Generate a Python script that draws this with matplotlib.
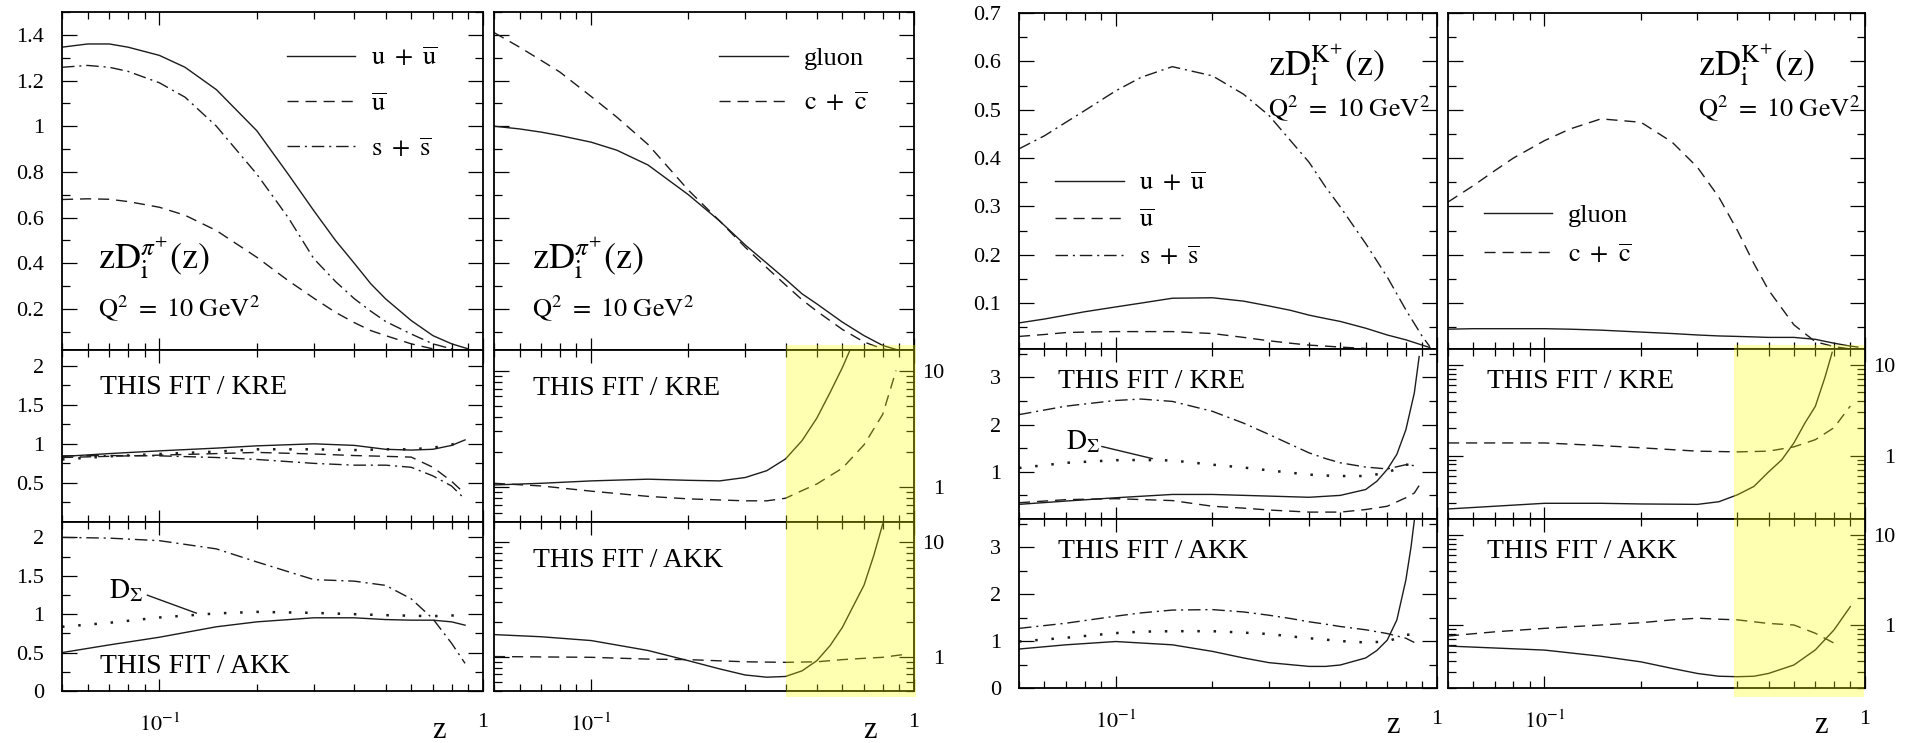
import matplotlib
matplotlib.use('Agg')
import matplotlib.pyplot as plt
from matplotlib.ticker import FixedLocator, FuncFormatter, NullFormatter, MultipleLocator
from matplotlib.patches import Rectangle
from matplotlib.lines import Line2D
import matplotlib.transforms as mtransforms

plt.rcParams['font.family'] = ['Liberation Serif', 'DejaVu Serif']
plt.rcParams['mathtext.fontset'] = 'stix'

# ---------------- data ----------------
z_top = [0.05, 0.06, 0.07, 0.08, 0.1, 0.12, 0.15, 0.2, 0.25, 0.3, 0.35, 0.4, 0.45, 0.5, 0.6, 0.7, 0.8, 0.9]
pi_uubar = [1.346, 1.36, 1.36, 1.346, 1.31, 1.258, 1.16, 0.98, 0.79, 0.63, 0.50, 0.40, 0.31, 0.244, 0.149, 0.083, 0.047, 0.025]
pi_ubar = [0.679, 0.682, 0.68, 0.67, 0.645, 0.61, 0.543, 0.426, 0.324, 0.247, 0.185, 0.14, 0.105, 0.083, 0.047, 0.025, 0.012, 0.004]
pi_ssbar = [1.258, 1.266, 1.258, 1.24, 1.19, 1.127, 1.0, 0.79, 0.60, 0.42, 0.32, 0.245, 0.19, 0.145, 0.09, 0.047, 0.025, 0.01]
pi_gluon = [1.0, 0.988, 0.974, 0.959, 0.93, 0.895, 0.83, 0.70, 0.585, 0.48, 0.40, 0.33, 0.266, 0.222, 0.142, 0.083, 0.04, 0.018]
pi_ccbar = [1.41, 1.346, 1.288, 1.237, 1.13, 1.04, 0.92, 0.72, 0.585, 0.47, 0.38, 0.305, 0.24, 0.19, 0.11, 0.055, 0.025, 0.01]

z_pm = [0.05, 0.07, 0.1, 0.15, 0.2, 0.3, 0.4, 0.5, 0.6, 0.7, 0.8, 0.88]
kre_pi_uubar = [0.838, 0.875, 0.91, 0.945, 0.974, 1.0, 0.98, 0.93, 0.92, 0.93, 0.98, 1.05]
kre_pi_ubar = [0.825, 0.84, 0.855, 0.875, 0.89, 0.87, 0.85, 0.84, 0.83, 0.70, 0.52, 0.36]
kre_pi_ssbar = [0.846, 0.85, 0.846, 0.825, 0.80, 0.75, 0.727, 0.727, 0.70, 0.59, 0.46, 0.29]
kre_pi_dsig = [0.80, 0.84, 0.87, 0.90, 0.93, 0.93, 0.92, 0.93, 0.93, 0.95, 0.99, 1.04]
akk_pi_uubar = [0.50, 0.60, 0.70, 0.836, 0.90, 0.953, 0.953, 0.93, 0.922, 0.922, 0.90, 0.857]
akk_pi_ssbar = [2.0, 1.99, 1.957, 1.85, 1.68, 1.45, 1.43, 1.375, 1.2, 0.94, 0.62, 0.36]
akk_pi_dsig = [0.836, 0.888, 0.957, 1.01, 1.03, 1.017, 1.0, 0.987, 0.98, 0.974, 0.983, 0.983]

z_kre_pi_g = [0.05, 0.07, 0.1, 0.15, 0.2, 0.25, 0.3, 0.35, 0.4, 0.45, 0.5, 0.55, 0.6, 0.64]
kre_pi_g = [1.04, 1.075, 1.127, 1.166, 1.14, 1.127, 1.205, 1.38, 1.74, 2.5, 3.9, 6.5, 10.6, 16]
z_kre_pi_c = [0.05, 0.07, 0.1, 0.15, 0.2, 0.3, 0.35, 0.4, 0.45, 0.5, 0.6, 0.7, 0.8, 0.88]
kre_pi_c = [1.075, 1.02, 0.92, 0.83, 0.79, 0.76, 0.76, 0.80, 0.93, 1.06, 1.45, 2.3, 4.2, 10]
z_akk_pi_g = [0.05, 0.07, 0.1, 0.15, 0.2, 0.25, 0.3, 0.35, 0.4, 0.45, 0.5, 0.55, 0.6, 0.65, 0.7, 0.75, 0.8, 0.81]
akk_pi_g = [1.556, 1.49, 1.38, 1.13, 0.92, 0.78, 0.69, 0.66, 0.67, 0.75, 0.92, 1.25, 1.8, 2.8, 4.2, 7.6, 14.4, 15.5]
z_akk_pi_c = [0.05, 0.1, 0.15, 0.2, 0.3, 0.4, 0.5, 0.6, 0.7, 0.8, 0.9, 0.95]
akk_pi_c = [1.0, 0.985, 0.95, 0.94, 0.90, 0.89, 0.90, 0.94, 0.965, 0.985, 1.03, 1.05]

z_K = [0.05, 0.06, 0.07, 0.08, 0.1, 0.12, 0.15, 0.2, 0.25, 0.3, 0.35, 0.4, 0.45, 0.5, 0.6, 0.7, 0.8, 0.9, 0.95]
K_ssbar = [0.419, 0.446, 0.474, 0.498, 0.539, 0.567, 0.589, 0.57, 0.532, 0.488, 0.436, 0.391, 0.34, 0.299, 0.223, 0.154, 0.086, 0.031, 0.01]
K_uubar = [0.059, 0.067, 0.075, 0.082, 0.092, 0.10, 0.11, 0.111, 0.104, 0.094, 0.085, 0.075, 0.068, 0.062, 0.048, 0.034, 0.024, 0.013, 0.008]
K_ubar = [0.031, 0.035, 0.039, 0.04, 0.041, 0.041, 0.041, 0.037, 0.029, 0.022, 0.017, 0.013, 0.011, 0.009, 0.006, 0.004, 0.002, 0.001, 0.0005]
K_ccbar = [0.309, 0.343, 0.374, 0.40, 0.436, 0.46, 0.481, 0.474, 0.433, 0.381, 0.319, 0.25, 0.182, 0.127, 0.055, 0.02, 0.01, 0.005, 0.003]
K_gluon = [0.046, 0.047, 0.047, 0.047, 0.047, 0.046, 0.044, 0.04, 0.037, 0.034, 0.032, 0.031, 0.030, 0.029, 0.029, 0.025, 0.017, 0.011, 0.009]

z_Km = [0.05, 0.07, 0.1, 0.12, 0.15, 0.2, 0.25, 0.3, 0.35, 0.4, 0.45, 0.5, 0.6, 0.7, 0.8, 0.85]
kre_K_ssbar = [2.21, 2.39, 2.51, 2.54, 2.49, 2.28, 2.03, 1.79, 1.58, 1.40, 1.28, 1.19, 1.10, 1.06, 1.15, 1.13]
kre_K_dsig = [1.08, 1.19, 1.245, 1.25, 1.24, 1.15, 1.09, 1.03, 0.98, 0.94, 0.92, 0.91, 0.91, 0.98, 1.15, 1.15]
akk_K_ssbar = [1.27, 1.38, 1.53, 1.60, 1.66, 1.67, 1.62, 1.55, 1.48, 1.41, 1.36, 1.31, 1.24, 1.16, 1.06, 0.97]
akk_K_dsig = [0.99, 1.07, 1.17, 1.20, 1.21, 1.21, 1.18, 1.15, 1.10, 1.06, 1.03, 1.0, 0.97, 0.99, 1.13, 1.15]
z_kre_K_u = [0.05, 0.07, 0.1, 0.15, 0.2, 0.3, 0.4, 0.5, 0.6, 0.65, 0.7, 0.75, 0.8, 0.85, 0.88]
kre_K_uubar = [0.31, 0.38, 0.45, 0.52, 0.52, 0.485, 0.46, 0.50, 0.625, 0.80, 1.05, 1.37, 1.89, 2.67, 3.44]
z_kre_K_ub = [0.05, 0.07, 0.1, 0.15, 0.2, 0.25, 0.3, 0.4, 0.5, 0.6, 0.7, 0.8, 0.85, 0.88]
kre_K_ubar = [0.344, 0.41, 0.43, 0.39, 0.27, 0.23, 0.19, 0.146, 0.146, 0.20, 0.27, 0.45, 0.55, 0.71]
z_akk_K_u = [0.05, 0.07, 0.1, 0.15, 0.2, 0.25, 0.3, 0.4, 0.45, 0.5, 0.6, 0.65, 0.7, 0.75, 0.8, 0.83, 0.85]
akk_K_uubar = [0.83, 0.92, 0.99, 0.92, 0.78, 0.64, 0.54, 0.46, 0.46, 0.49, 0.64, 0.80, 1.02, 1.45, 2.3, 3.0, 3.57]

z_kre_K_g = [0.05, 0.1, 0.15, 0.2, 0.3, 0.35, 0.4, 0.45, 0.5, 0.55, 0.6, 0.65, 0.7, 0.75, 0.79]
kre_K_g = [0.258, 0.298, 0.298, 0.293, 0.29, 0.31, 0.37, 0.457, 0.66, 0.9, 1.38, 2.3, 3.5, 7.3, 13.8]
z_kre_K_c = [0.05, 0.1, 0.15, 0.2, 0.3, 0.4, 0.5, 0.6, 0.7, 0.8, 0.9]
kre_K_c = [1.38, 1.38, 1.29, 1.22, 1.12, 1.10, 1.12, 1.25, 1.5, 2.03, 3.53]
z_akk_K_g = [0.05, 0.1, 0.15, 0.2, 0.25, 0.3, 0.35, 0.4, 0.45, 0.5, 0.6, 0.7, 0.8, 0.9]
akk_K_g = [0.584, 0.527, 0.45, 0.39, 0.33, 0.29, 0.27, 0.267, 0.27, 0.29, 0.36, 0.53, 0.88, 1.6]
z_akk_K_c = [0.05, 0.07, 0.1, 0.15, 0.2, 0.25, 0.3, 0.35, 0.4, 0.5, 0.6, 0.7, 0.8]
akk_K_c = [0.755, 0.84, 0.918, 1.0, 1.06, 1.14, 1.19, 1.16, 1.14, 1.04, 1.0, 0.81, 0.63]

x_minor = [0.05, 0.06, 0.07, 0.08, 0.09, 0.2, 0.3, 0.4, 0.5, 0.6, 0.7, 0.8, 0.9]
x_major = [0.1, 1.0]
log_minor = [0.2, 0.3, 0.4, 0.5, 0.6, 0.7, 0.8, 0.9, 2, 3, 4, 5, 6, 7, 8, 9]
log_major = [1, 10]

# ---------------- styles ----------------
LC = '#1c1c1c'
S_SOLID = dict(color=LC, lw=1.0, ls='-')
S_DASH = dict(color=LC, lw=1.0, ls=(0, (8, 5)))
S_DDOT = dict(color=LC, lw=1.0, ls=(0, (9, 3.5, 1.5, 3.5)))
S_DOT = dict(color=LC, lw=1.8, ls=(0, (1, 5.5)))

W, H = 1912, 743
fig = plt.figure(figsize=(W / 100, H / 100), dpi=100)


def fax(x0, x1, y0, y1):
    return fig.add_axes([x0 / W, 1 - y1 / H, (x1 - x0) / W, (y1 - y0) / H])


def xfmt(v, pos):
    if abs(v - 0.1) < 1e-9:
        return r'$10^{-1}$'
    if abs(v - 1) < 1e-9:
        return '1'
    return ''


def setup(ax, ylim, xlabels=False, ylog=False, ymaj=None, hide=(), ylabels='left'):
    for sp in ax.spines.values():
        sp.set_linewidth(1.3)
    ax.set_xscale('log')
    ax.set_xlim(0.05, 1.0)
    ax.xaxis.set_major_locator(FixedLocator(x_major))
    ax.xaxis.set_minor_locator(FixedLocator(x_minor))
    ax.xaxis.set_minor_formatter(NullFormatter())
    if xlabels:
        ax.xaxis.set_major_formatter(FuncFormatter(xfmt))
    else:
        ax.xaxis.set_major_formatter(NullFormatter())
    ax.tick_params(axis='x', which='both', direction='in', top=True, bottom=True, width=0.9)
    ax.tick_params(axis='x', which='major', length=9, labelsize=16, pad=16)
    ax.tick_params(axis='x', which='minor', length=5)
    if ylog:
        ax.set_yscale('log')
        ax.set_ylim(*ylim)
        ax.yaxis.set_major_locator(FixedLocator(log_major))
        ax.yaxis.set_minor_locator(FixedLocator(log_minor))
        ax.yaxis.set_minor_formatter(NullFormatter())
        ax.yaxis.set_major_formatter(FuncFormatter(lambda v, p: '%g' % v))
    else:
        ax.set_ylim(*ylim)
        ax.yaxis.set_major_locator(MultipleLocator(ymaj))
        ax.yaxis.set_minor_locator(MultipleLocator(ymaj / 2))

        def yf(v, p, hide=hide):
            for h in hide:
                if abs(v - h) < 1e-9:
                    return ''
            return '%g' % round(v, 6)
        ax.yaxis.set_major_formatter(FuncFormatter(yf))
    ax.tick_params(axis='y', which='both', direction='in', left=True, right=True, width=0.9)
    ax.tick_params(axis='y', which='major', length=10.5, labelsize=16, pad=13)
    ax.tick_params(axis='y', which='minor', length=5.5)
    if ylabels == 'none':
        ax.tick_params(axis='y', which='both', labelleft=False, labelright=False)
    elif ylabels == 'right':
        ax.tick_params(axis='y', which='both', labelleft=False, labelright=True, pad=22)
        for t in ax.yaxis.get_major_ticks():
            t.label2.set_horizontalalignment('right')


# ---------------- axes ----------------
aT = fax(62, 483, 12, 350)
aM = fax(62, 483, 350, 522)
aB = fax(62, 483, 522, 691)
bT = fax(494, 914, 12, 350)
bM = fax(494, 914, 350, 522)
bB = fax(494, 914, 522, 691)
cT = fax(1019, 1437, 13, 349)
cM = fax(1019, 1437, 349, 519)
cB = fax(1019, 1437, 519, 688)
dT = fax(1448, 1865, 13, 349)
dM = fax(1448, 1865, 349, 519)
dB = fax(1448, 1865, 519, 688)

setup(aT, (0.02, 1.5), ymaj=0.2)
setup(aM, (0, 2.2), ymaj=0.5, hide=(0,))
setup(aB, (0, 2.2), ymaj=0.5, xlabels=True)
setup(bT, (0.02, 1.5), ymaj=0.2, ylabels='none')
setup(bM, (0.5, 15), ylog=True, ylabels='right')
setup(bB, (0.5, 15), ylog=True, ylabels='right', xlabels=True)
setup(cT, (0.005, 0.7), ymaj=0.1)
setup(cM, (0, 3.6), ymaj=1.0, hide=(0,))
setup(cB, (0, 3.6), ymaj=1.0, xlabels=True)
setup(dT, (0.005, 0.7), ymaj=0.1, ylabels='none')
setup(dM, (0.2, 15), ylog=True, ylabels='right')
setup(dB, (0.2, 15), ylog=True, ylabels='right', xlabels=True)

# ---------------- curves ----------------
aT.plot(z_top, pi_uubar, **S_SOLID)
aT.plot(z_top, pi_ubar, **S_DASH)
aT.plot(z_top, pi_ssbar, **S_DDOT)
bT.plot(z_top, pi_gluon, **S_SOLID)
bT.plot(z_top, pi_ccbar, **S_DASH)

aM.plot(z_pm, kre_pi_uubar, **S_SOLID)
aM.plot(z_pm, kre_pi_ubar, **S_DASH)
aM.plot(z_pm, kre_pi_ssbar, **S_DDOT)
aM.plot(z_pm, kre_pi_dsig, **S_DOT)
aB.plot(z_pm, akk_pi_uubar, **S_SOLID)
aB.plot(z_pm, akk_pi_ssbar, **S_DDOT)
aB.plot(z_pm, akk_pi_dsig, **S_DOT)

bM.plot(z_kre_pi_g, kre_pi_g, **S_SOLID)
bM.plot(z_kre_pi_c, kre_pi_c, **S_DASH)
bB.plot(z_akk_pi_g, akk_pi_g, **S_SOLID)
bB.plot(z_akk_pi_c, akk_pi_c, **S_DASH)

cT.plot(z_K, K_uubar, **S_SOLID)
cT.plot(z_K, K_ubar, **S_DASH)
cT.plot(z_K, K_ssbar, **S_DDOT)
dT.plot(z_K, K_gluon, **S_SOLID)
dT.plot(z_K, K_ccbar, **S_DASH)

cM.plot(z_kre_K_u, kre_K_uubar, **S_SOLID)
cM.plot(z_kre_K_ub, kre_K_ubar, **S_DASH)
cM.plot(z_Km, kre_K_ssbar, **S_DDOT)
cM.plot(z_Km, kre_K_dsig, **S_DOT)
cB.plot(z_akk_K_u, akk_K_uubar, **S_SOLID)
cB.plot(z_Km, akk_K_ssbar, **S_DDOT)
cB.plot(z_Km, akk_K_dsig, **S_DOT)

dM.plot(z_kre_K_g, kre_K_g, **S_SOLID)
dM.plot(z_kre_K_c, kre_K_c, **S_DASH)
dB.plot(z_akk_K_g, akk_K_g, **S_SOLID)
dB.plot(z_akk_K_c, akk_K_c, **S_DASH)

# ---------------- legends ----------------
lab_q = [r'$\mathrm{u}\ +\ \overline{\mathrm{u}}$', r'$\overline{\mathrm{u}}$', r'$\mathrm{s}\ +\ \overline{\mathrm{s}}$']
lab_g = ['gluon', r'$\mathrm{c}\ +\ \overline{\mathrm{c}}$']
h_q = [Line2D([], [], **S_SOLID), Line2D([], [], **S_DASH), Line2D([], [], **S_DDOT)]
h_g = [Line2D([], [], **S_SOLID), Line2D([], [], **S_DASH)]


def leg(ax, h, l, x, y, sp):
    ax.legend(h, l, loc='upper left', bbox_to_anchor=(x, y), frameon=False, fontsize=19,
              handlelength=2.6, handletextpad=0.6, labelspacing=sp, borderpad=0, borderaxespad=0)


leg(aT, h_q, lab_q, 0.534, 0.897, 0.82)
leg(bT, h_g, lab_g, 0.536, 0.897, 0.82)
leg(cT, h_q, lab_q, 0.086, 0.527, 0.5)
leg(dT, h_g, lab_g, 0.086, 0.432, 0.6)

# ---------------- texts ----------------
zpi = r'$\mathrm{zD}_{\mathrm{i}}^{\pi^{+}}\mathrm{(z)}$'
zK = r'$\mathrm{zD}_{\mathrm{i}}^{\mathrm{K}^{+}}\mathrm{(z)}$'
q2 = r'$\mathrm{Q}^{2}\ =\ \mathrm{10\ GeV}^{2}$'
for ax, x in ((aT, 0.0855), (bT, 0.090)):
    ax.text(x, 0.237, zpi, transform=ax.transAxes, fontsize=26, ha='left', va='baseline')
    ax.text(x, 0.098, q2, transform=ax.transAxes, fontsize=19, ha='left', va='baseline')
for ax, x in ((cT, 0.596), (dT, 0.600)):
    ax.text(x, 0.81, zK, transform=ax.transAxes, fontsize=26, ha='left', va='baseline')
    ax.text(x, 0.69, q2, transform=ax.transAxes, fontsize=19, ha='left', va='baseline')

for ax, x, y, t in ((aM, 0.09, 0.744, 'THIS FIT / KRE'), (aB, 0.09, 0.107, 'THIS FIT / AKK'),
                    (bM, 0.093, 0.738, 'THIS FIT / KRE'), (bB, 0.093, 0.734, 'THIS FIT / AKK'),
                    (cM, 0.093, 0.77, 'THIS FIT / KRE'), (cB, 0.093, 0.769, 'THIS FIT / AKK'),
                    (dM, 0.0935, 0.77, 'THIS FIT / KRE'), (dB, 0.0935, 0.769, 'THIS FIT / AKK')):
    ax.text(x, y, t, transform=ax.transAxes, fontsize=20, ha='left', va='baseline')

dsig = r'$\mathrm{D}_{\Sigma}$'
aB.text(0.0699, 1.30, dsig, fontsize=20, ha='left', va='center')
aB.plot([0.0918, 0.130], [1.247, 1.014], color=LC, lw=1.0)
cM.text(0.0699, 1.62, dsig, fontsize=20, ha='left', va='center')
cM.plot([0.0906, 0.1298], [1.535, 1.28], color=LC, lw=1.0)

for ax, y in ((aB, -0.278), (bB, -0.278), (cB, -0.266), (dB, -0.266)):
    tr = mtransforms.blended_transform_factory(ax.transData, ax.transAxes)
    ax.text(0.73, y, 'z', transform=tr, fontsize=22, ha='center', va='baseline')

# ---------------- yellow bands ----------------
for ax, x0, x1 in ((bM, 0.40, 1.012), (dM, 0.39, 0.995)):
    tr = mtransforms.blended_transform_factory(ax.transData, fig.transFigure)
    y0 = 1 - 697 / H
    y1 = 1 - 345 / H
    fig.add_artist(Rectangle((x0, y0), x1 - x0, y1 - y0, transform=tr, facecolor=(1, 1, 0),
                             alpha=0.3, edgecolor='none', zorder=10))

fig.savefig('out.png', dpi=100)
